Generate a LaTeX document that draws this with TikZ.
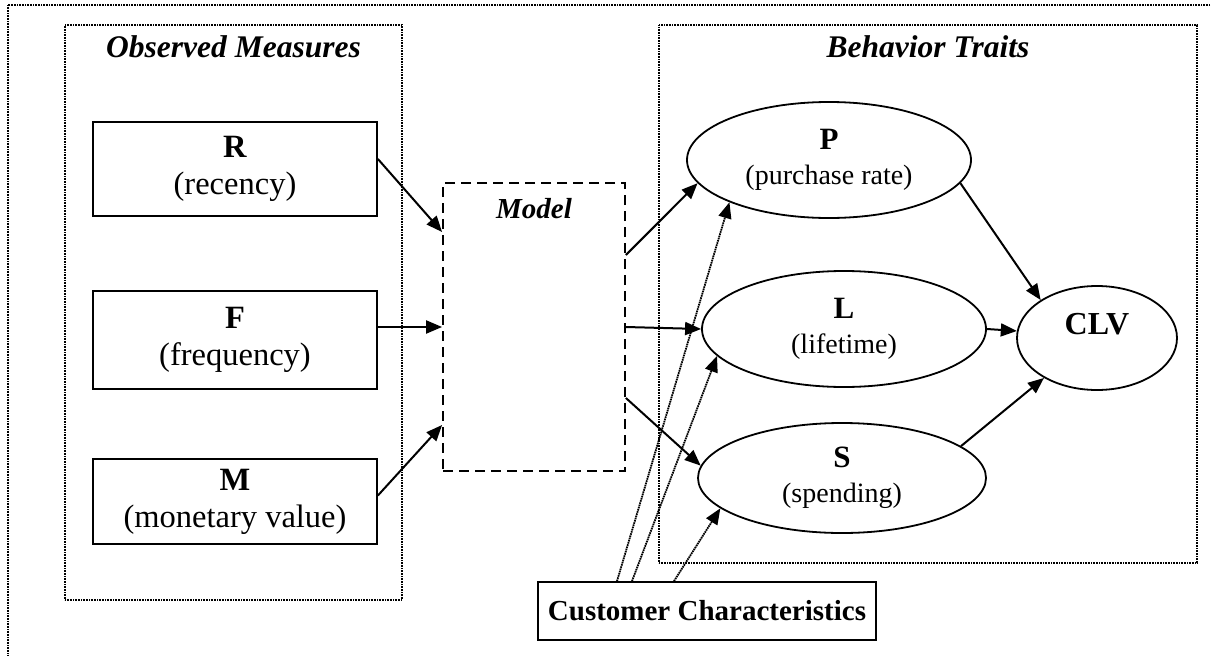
\documentclass[tikz,border=0pt]{standalone}
\usepackage{fontspec}
\setmainfont{Liberation Serif}
\usetikzlibrary{positioning, arrows.meta, shapes.geometric}

\newcommand{\bigtxt}{\fontsize{32.5}{37}\selectfont}
\newcommand{\midtxt}{\fontsize{28}{35}\selectfont}
\newcommand{\traitname}[1]{{\fontsize{31}{35}\selectfont\textbf{#1}}}

\begin{document}
\begin{tikzpicture}[x=1pt, y=-1pt,
  frame/.style={line width=1.4pt, dash pattern=on 1pt off 0.6pt},
  groupbox/.style={draw, line width=1.4pt, dash pattern=on 1pt off 0.6pt, inner sep=0pt},
  grouptitle/.style={font=\fontsize{31.5}{36}\selectfont\bfseries\itshape, inner sep=0pt},
  measure/.style={draw, line width=1.8pt, minimum width=284pt, align=center, inner sep=0pt, font=\bigtxt},
  modelbox/.style={draw, line width=1.8pt, dash pattern=on 10pt off 6pt, minimum width=182pt, minimum height=288pt},
  trait/.style={draw, ellipse, line width=1.8pt, minimum width=284pt, minimum height=116pt, align=center, inner sep=0pt, font=\midtxt},
  conn/.style={-{Triangle[length=16pt, width=13pt]}, line width=2pt},
  cue/.style={conn, line width=1.8pt, dash pattern=on 1.6pt off 0.7pt}]
\useasboundingbox (0,0) rectangle (1211,656);
\draw[frame] (8,5) rectangle (1240,690);

% groups
\node[groupbox, minimum width=337pt, minimum height=575pt] (obs) at (233.5,312.5) {};
\node[grouptitle, below=11pt of obs.north] (obstitle) {Observed Measures};
\node[groupbox, minimum width=538pt, minimum height=538pt] (beh) at (928,294) {};
\node[grouptitle, below=11pt of beh.north] (behtitle) {Behavior Traits};

% observed measures
\node[measure, minimum height=94pt] (R) at (235,169) {\textbf{R}\\(recency)};
\node[measure, minimum height=98pt] (F) at (235,340) {\textbf{F}\\(frequency)};
\node[measure, minimum height=85pt] (M) at (235,501.5) {\textbf{M}\\(monetary value)};

% model
\node[modelbox] (model) at (534,327) {};
\node[grouptitle, font=\fontsize{29}{34}\selectfont\bfseries\itshape, below=16pt of model.north] (modeltitle) {Model};

% behavior traits
\node[trait] (P) at (829,160) {\traitname{P}\\(purchase rate)};
\node[trait] (L) at (844,329) {\traitname{L}\\(lifetime)};
\node[trait, minimum width=288pt, minimum height=110pt] (S) at (842,478) {\traitname{S}\\(spending)};
\node[trait, minimum width=160pt, minimum height=104pt, font=\fontsize{32}{35}\selectfont] (clv) at (1097,338) {\textbf{CLV}\\[-6pt]\mbox{}};

\node[draw, line width=1.8pt, minimum width=338pt, minimum height=58pt, font=\fontsize{29}{34}\selectfont\bfseries] (cc) at (707,611) {Customer Characteristics};

% connectors
\draw[conn] ([yshift=10pt]R.east) -- ([yshift=95pt]model.west);
\draw[conn] ([yshift=13pt]F.east) -- (model.west);
\draw[conn] ([yshift=6pt]M.east) -- ([yshift=-98pt]model.west);
\draw[conn] ([yshift=72pt]model.east) -- (P.190);
\draw[conn] (model.east) -- (L.west);
\draw[conn] ([yshift=-71pt]model.east) -- (S.175);
\draw[conn] (P.350) -- (clv.146);
\draw[conn] (L.east) -- (clv.175);
\draw[conn] (S.15) -- (clv.217);
\draw[cue] ([xshift=-90pt]cc.north) -- (P.203);
\draw[cue] ([xshift=-75pt]cc.north) -- (L.192);
\draw[cue] ([xshift=-33pt]cc.north) -- (S.194);
\end{tikzpicture}
\end{document}
